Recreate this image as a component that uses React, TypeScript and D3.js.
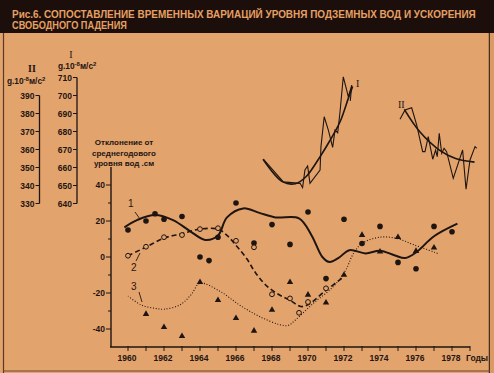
import { useEffect, useRef } from "react";
import * as d3 from "d3";

const BG = "#e3a36d";
const INK = "#1e1511";
const TITLE_BG = "#1c0f0b";

const titleLines = [
  "Рис.6. СОПОСТАВЛЕНИЕ ВРЕМЕННЫХ ВАРИАЦИЙ УРОВНЯ ПОДЗЕМНЫХ ВОД И УСКОРЕНИЯ",
  "СВОБОДНОГО ПАДЕНИЯ",
];
const yLabelLines = ["Отклонение от", "среднегодового", "уровня вод .см"];

// curve 1: annual observations (filled dots) and smoothed line
const dots1: [number, number][] = [
  [1960, 15], [1961, 20], [1961.5, 24], [1962, 21], [1963, 22.5], [1964, 0],
  [1964.5, -2], [1965, 11], [1966, 30], [1967, 7.8], [1968, 18], [1969, 7],
  [1970, 25], [1971, -12], [1972, 21], [1973, 7.5], [1974, 17], [1975, -3],
  [1976, -6.5], [1977, 17], [1978, 14],
];
const curve1: [number, number][] = [
  [1959.8, 16.5], [1960.5, 20.5], [1961.5, 23.3], [1962.5, 20.5], [1963.5, 14],
  [1964.3, 9.5], [1965, 12], [1965.5, 22], [1966.4, 27], [1967.3, 24.5],
  [1968.2, 22], [1969.5, 21.5], [1970.2, 12], [1970.8, 0], [1971.2, -2.8],
  [1971.7, -0.5], [1972.3, 3.8], [1973.2, 2], [1974, 3.5], [1974.8, 1],
  [1975.4, -0.6], [1976, 2.5], [1977, 11.5], [1978.3, 18.5],
];

// curve 2: open circles and dashed line
const circles2: [number, number][] = [
  [1960, 0.7], [1961, 5.7], [1962, 11], [1963, 12.2], [1964, 15.5], [1965, 16],
  [1966, 9], [1967, 5.4], [1968, -20.7], [1969, -23], [1969.5, -31],
  [1970, -25], [1971, -17.4],
];
const curve2: [number, number][] = [
  [1960, 0.7], [1961, 5.5], [1962, 10.5], [1963, 13], [1964, 15.5], [1965, 15.5],
  [1965.5, 12], [1966, 6.5], [1966.6, -1], [1967.1, -9], [1967.7, -16],
  [1968.4, -21], [1969, -24], [1969.6, -27.5], [1970, -26.5], [1971, -18.5],
  [1972, -11],
];

// curve 3: triangles and dotted line
const triangles3: [number, number][] = [
  [1961, -31.7], [1962, -39], [1963, -44], [1964, -14], [1965, -24], [1966, -34],
  [1967, -41], [1968, -29.4], [1969, -14], [1970, -21], [1971, -25.4],
  [1972, -10], [1973, 12.2], [1974, 3], [1975, 11], [1976, 3.3], [1977, 5.2],
];
const curve3: [number, number][] = [
  [1960, -21.7], [1960.75, -26.7], [1961.5, -28.5], [1962, -29], [1962.9, -26.5],
  [1963.5, -21], [1964, -14.6], [1965.1, -19], [1966.2, -26.7], [1967.3, -33],
  [1968.4, -37.5], [1968.9, -38], [1969.3, -35], [1970.3, -25.7], [1971.4, -16.5],
  [1972.1, -7.2], [1972.5, 1.5], [1973, 7.6], [1974, 11], [1974.9, 10.4],
  [1975.9, 6.7], [1977.2, 2],
];

// gravity, station I (right scale) and II (left scale)
const gravI: [number, number][] = [
  [1967.52, 664.6], [1968.63, 652], [1969.56, 651.2], [1969.7, 648.8],
  [1969.83, 658.6], [1969.98, 660.8], [1970.11, 651.2], [1970.67, 658.6],
  [1970.72, 671.6], [1970.9, 688.2], [1971.13, 680.8], [1971.37, 671.2],
  [1971.5, 680.8], [1971.65, 679.3], [1971.78, 691], [1971.96, 710.4],
  [1972.15, 703], [1972.24, 699.3], [1972.43, 705.8], [1972.35, 697],
];
const gravISmooth: [number, number][] = [
  [1967.5, 664.6], [1968.6, 652], [1969.3, 651], [1969.9, 655], [1970.67, 666],
  [1971.22, 675], [1971.78, 685.4], [1972.24, 698.4], [1972.48, 705],
];
const gravII: [number, number][] = [
  [1975.11, 376.8], [1975.39, 382], [1975.76, 383.2], [1976.04, 373.6],
  [1976.37, 358.8], [1976.5, 358.8], [1976.68, 367.1], [1976.93, 354.6],
  [1977.09, 359.7], [1977.18, 356], [1977.29, 369], [1977.43, 357.9],
  [1977.56, 360.7], [1977.7, 358.8], [1978.07, 344], [1978.59, 359.7],
  [1978.78, 337.9], [1979, 354.2], [1979.28, 361.6], [1979.37, 360.7],
];
const gravIISmooth: [number, number][] = [
  [1975.35, 382.3], [1976.2, 370], [1977.3, 359.7], [1978.2, 355], [1979.25, 353],
];

const yearLabels = [1960, 1962, 1964, 1966, 1968, 1970, 1972, 1974, 1976, 1978];
const waterTicks = [-40, -20, 0, 20, 40];
const gITicks = [640, 650, 660, 670, 680, 690, 700, 710];
const gIITicks = [330, 340, 350, 360, 370, 380, 390];

const W = 494;
const H = 373;
const FONT = "'Liberation Sans', Arial, sans-serif";

export default function App() {
  const svgRef = useRef<SVGSVGElement>(null);

  useEffect(() => {
    const svgEl = svgRef.current;
    if (!svgEl) return;
    const svg = d3.select(svgEl);
    svg.selectAll("*").remove();

    const x = d3.scaleLinear().domain([1960, 1978]).range([128, 452]);
    const y = d3.scaleLinear().domain([-50, 50]).range([347, 167]);
    const gI = d3.scaleLinear().domain([640, 710]).range([203.5, 77.5]);
    const gII = d3.scaleLinear().domain([330, 390]).range([203.5, 95.5]);

    svg.append("rect").attr("width", W).attr("height", H).attr("fill", BG);

    // frame
    svg.append("rect").attr("x", 0).attr("y", 0).attr("width", W).attr("height", 33).attr("fill", TITLE_BG);
    svg.append("line").attr("x1", 3.5).attr("x2", 3.5).attr("y1", 33).attr("y2", H)
      .attr("stroke", "#5a3a26").attr("stroke-width", 1.2);
    svg.append("line").attr("x1", 489.5).attr("x2", 489.5).attr("y1", 33).attr("y2", H)
      .attr("stroke", "#4a2e1e").attr("stroke-width", 1.5);
    svg.append("rect").attr("x", 490).attr("y", 33).attr("width", 4).attr("height", H - 33).attr("fill", "#d99a64");
    svg.append("line").attr("x1", 3).attr("x2", 490).attr("y1", 371).attr("y2", 371)
      .attr("stroke", "#6a4630").attr("stroke-width", 1);

    // title, squeezed horizontally to the printed width
    const titleWidths = [464, 115];
    titleLines.forEach((s, i) => {
      const g = svg.append("g").attr("transform", `translate(12,${18 + i * 11})`);
      const t = g.append("text").attr("font-family", FONT).attr("font-weight", 700)
        .attr("font-size", 10).attr("fill", "#e6a064").text(s);
      const len = (t.node() as SVGTextElement).getComputedTextLength() || titleWidths[i];
      t.attr("transform", `scale(${titleWidths[i] / len},1)`);
    });

    // gravity axes
    const gAxis = (scale: d3.ScaleLinear<number, number>, ticks: number[], ax: number) => {
      const g = svg.append("g");
      g.append("line").attr("x1", ax).attr("x2", ax)
        .attr("y1", scale(ticks[ticks.length - 1])).attr("y2", scale(ticks[0]))
        .attr("stroke", INK).attr("stroke-width", 1.3);
      ticks.forEach((t) => {
        g.append("line").attr("x1", ax - 4).attr("x2", ax).attr("y1", scale(t)).attr("y2", scale(t))
          .attr("stroke", INK).attr("stroke-width", 1);
        g.append("text").attr("x", ax - 5).attr("y", scale(t) + 3).attr("text-anchor", "end")
          .attr("font-family", FONT).attr("font-weight", 700).attr("font-size", 8.5)
          .attr("fill", INK).text(String(t));
      });
    };
    gAxis(gII, gIITicks, 39.5);
    gAxis(gI, gITicks, 77);

    const unit = (tx: number, ty: number) => {
      const t = svg.append("text").attr("x", tx).attr("y", ty).attr("font-family", FONT)
        .attr("font-weight", 700).attr("font-size", 8.3).attr("fill", INK);
      t.append("tspan").text("g.10");
      t.append("tspan").attr("dy", -3).attr("font-size", 6).text("-8");
      t.append("tspan").attr("dy", 3).text("м/с");
      t.append("tspan").attr("dy", -3).attr("font-size", 6).text("2");
    };
    svg.append("text").attr("x", 32).attr("y", 72).attr("text-anchor", "middle")
      .attr("font-family", "'Liberation Serif', serif").attr("font-weight", 700).attr("font-size", 10)
      .attr("fill", INK).text("II");
    unit(7, 84);
    svg.append("text").attr("x", 71).attr("y", 58).attr("text-anchor", "middle")
      .attr("font-family", "'Liberation Serif', serif").attr("font-size", 10).attr("fill", INK).text("I");
    unit(58, 69);

    // gravity curves (time axis shared with the lower chart)
    const lineI = d3.line<[number, number]>().x((d) => x(d[0])).y((d) => gI(d[1]));
    const lineII = d3.line<[number, number]>().x((d) => x(d[0])).y((d) => gII(d[1]));
    svg.append("path").attr("d", lineI(gravI)).attr("fill", "none").attr("stroke", INK).attr("stroke-width", 1.1);
    svg.append("path").attr("d", lineI.curve(d3.curveCatmullRom)(gravISmooth)).attr("fill", "none")
      .attr("stroke", INK).attr("stroke-width", 1.6);
    svg.append("path").attr("d", lineII(gravII)).attr("fill", "none").attr("stroke", INK).attr("stroke-width", 1.1);
    svg.append("path").attr("d", lineII.curve(d3.curveCatmullRom)(gravIISmooth)).attr("fill", "none")
      .attr("stroke", INK).attr("stroke-width", 1.6);
    svg.append("text").attr("x", 356).attr("y", 87).attr("font-family", "'Liberation Serif', serif")
      .attr("font-size", 10).attr("fill", INK).text("I");
    svg.append("text").attr("x", 398).attr("y", 108).attr("font-family", "'Liberation Serif', serif")
      .attr("font-size", 10).attr("fill", INK).text("II");

    // water level axes
    const axis = svg.append("g").attr("font-family", FONT).attr("font-weight", 700).attr("fill", INK);
    axis.append("line").attr("x1", 111).attr("x2", 111).attr("y1", y(50)).attr("y2", y(-50))
      .attr("stroke", INK).attr("stroke-width", 1.4);
    axis.append("line").attr("x1", 110).attr("x2", 470).attr("y1", y(-50)).attr("y2", y(-50))
      .attr("stroke", INK).attr("stroke-width", 1.4);
    d3.range(-40, 50, 10).forEach((t) => {
      axis.append("line").attr("x1", t % 20 === 0 ? 106 : 108).attr("x2", 111)
        .attr("y1", y(t)).attr("y2", y(t)).attr("stroke", INK).attr("stroke-width", 1);
    });
    waterTicks.forEach((t) => {
      axis.append("text").attr("x", 105).attr("y", y(t) + 3).attr("text-anchor", "end")
        .attr("font-size", 8.5).text(String(t));
    });
    d3.range(1960, 1980).forEach((yr) => {
      const px = yr === 1979 ? 470 : x(yr);
      axis.append("line").attr("x1", px).attr("x2", px).attr("y1", y(-50) - 1).attr("y2", y(-50) + 4)
        .attr("stroke", INK).attr("stroke-width", 1);
    });
    yearLabels.forEach((yr) => {
      axis.append("text").attr("x", x(yr) - 1).attr("y", 361).attr("text-anchor", "middle")
        .attr("font-size", 8.5).text(String(yr));
    });
    axis.append("text").attr("x", 466).attr("y", 361).attr("font-size", 8.5).text("Годы");
    yLabelLines.forEach((s, i) => {
      axis.append("text").attr("x", 124).attr("y", 145 + i * 10.5).attr("text-anchor", "middle")
        .attr("font-size", 8).text(s);
    });

    // water level curves
    const wLine = d3.line<[number, number]>().x((d) => x(d[0])).y((d) => y(d[1])).curve(d3.curveCatmullRom);
    svg.append("path").attr("d", wLine(curve1)).attr("fill", "none").attr("stroke", INK).attr("stroke-width", 2);
    svg.append("path").attr("d", wLine(curve2)).attr("fill", "none").attr("stroke", INK)
      .attr("stroke-width", 1.6).attr("stroke-dasharray", "5,3");
    svg.append("path").attr("d", wLine(curve3)).attr("fill", "none").attr("stroke", INK)
      .attr("stroke-width", 1.1).attr("stroke-dasharray", "1,1.8");

    svg.append("g").selectAll("circle").data(dots1).join("circle")
      .attr("cx", (d) => x(d[0])).attr("cy", (d) => y(d[1])).attr("r", 2.8).attr("fill", INK);
    svg.append("g").selectAll("circle").data(circles2).join("circle")
      .attr("cx", (d) => x(d[0])).attr("cy", (d) => y(d[1])).attr("r", 2.4)
      .attr("fill", BG).attr("stroke", INK).attr("stroke-width", 1);
    const tri = d3.symbol().type(d3.symbolTriangle).size(18);
    svg.append("g").selectAll("path").data(triangles3).join("path")
      .attr("transform", (d) => `translate(${x(d[0])},${y(d[1])})`).attr("d", tri())
      .attr("fill", INK);

    // curve labels with leaders
    const lab = svg.append("g").attr("font-family", FONT).attr("font-size", 10).attr("fill", INK);
    lab.append("text").attr("x", 128).attr("y", 207).text("1");
    lab.append("text").attr("x", 131).attr("y", 271).text("2");
    lab.append("text").attr("x", 131).attr("y", 290).text("3");
    const leaders: [number, number, number, number][] = [
      [135, 212, 140, 219],
      [136, 261, 140, 253],
      [139, 292, 142, 302],
    ];
    leaders.forEach(([a, b, c, d]) => {
      svg.append("line").attr("x1", a).attr("y1", b).attr("x2", c).attr("y2", d)
        .attr("stroke", INK).attr("stroke-width", 0.9);
    });
  }, []);

  return (
    <svg ref={svgRef} width={W} height={H}
      style={{ position: "absolute", left: 0, top: 0, display: "block" }} />
  );
}
